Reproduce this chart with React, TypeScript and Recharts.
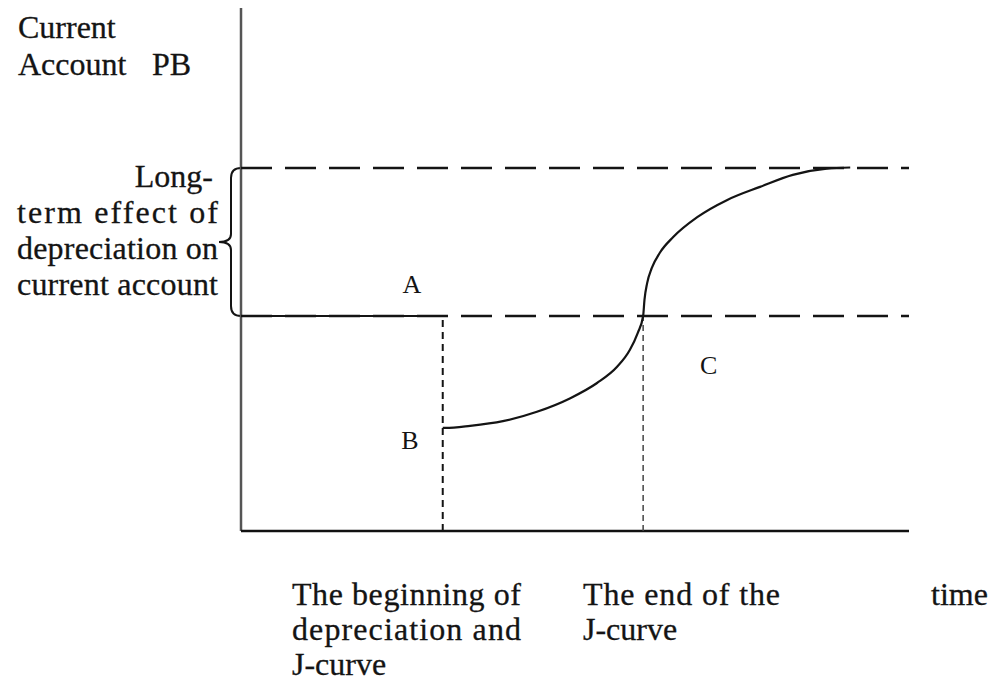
import React from 'react';
import { ComposedChart, Line, XAxis, YAxis, ReferenceLine, ReferenceArea, ReferenceDot } from 'recharts';

// ---- data (time on a 0-100 scale, current account balance on a 0-100 scale) ----
const beforeTime = [0, 30.2];
const beforeValue = [41.1, 41.1];
const jCurveTime = [30.2, 30.6, 34.3, 39.2, 44.3, 49.3, 53.3, 56.3, 58.2, 59.4, 60.2, 60.4, 60.8, 61.5, 62.7, 64.7, 68.3, 72.8, 77.7, 82.6, 87.7, 91.2];
const jCurveValue = [19.7, 19.7, 20.1, 21.0, 22.8, 25.4, 28.3, 31.4, 34.6, 37.9, 41.1, 44.2, 47.4, 50.3, 53.2, 56.2, 60.0, 63.3, 65.8, 68.1, 69.3, 69.5];
const initialLevel = 41.1;
const longRunLevel = 69.4;
const depreciationTime = 30.2;
const endOfJCurveTime = 60.2;
const timeDomain = [0, 100];
const valueDomain = [0, 100];
const pointLabels = ['A', 'B', 'C'];
const pointLabelTime = [25.6, 25.3, 70.0];
const pointLabelValue = [47.2, 17.4, 31.8];

const yTitleLines = ['Current', 'Account', 'PB'];
const braceLabelLines = ['Long-', 'term effect of', 'depreciation on', 'current account'];
const beginLabelLines = ['The beginning of', 'depreciation and', 'J-curve'];
const endLabelLines = ['The end of the', 'J-curve'];
const timeLabel = 'time';

const toPoints = (xs: number[], ys: number[]) => xs.map((t, i) => ({ t, v: ys[i] }));
const beforeData = toPoints(beforeTime, beforeValue);
const jCurveData = toPoints(jCurveTime, jCurveValue);

const FONT = '"Liberation Serif", "Times New Roman", serif';
const INK = '#141414';

const Brace = (props: any) => {
  const { x, y, height } = props;
  const X = x;
  const top = y;
  const bot = y + height;
  const mid = (top + bot) / 2;
  const v = X - 10;
  const p = X - 22;
  const d = `M ${X} ${top} Q ${v} ${top} ${v} ${top + 10} L ${v} ${mid - 8} Q ${v} ${mid} ${p} ${mid} Q ${v} ${mid} ${v} ${mid + 8} L ${v} ${bot - 10} Q ${v} ${bot} ${X} ${bot}`;
  return <path d={d} fill="none" stroke={INK} strokeWidth={2} />;
};

export default function App() {
  const txt = { fontFamily: FONT, fontSize: 32, fill: INK, stroke: INK, strokeWidth: 0.3 } as const;
  return (
    <div style={{ position: 'absolute', left: 0, top: 0, width: 992, height: 684, background: '#fff' }}>
      <ComposedChart
        width={992}
        height={684}
        margin={{ top: 8, right: 83, bottom: 153, left: 241 }}
      >
        <XAxis dataKey="t" type="number" domain={timeDomain} allowDataOverflow hide />
        <YAxis dataKey="v" type="number" domain={valueDomain} allowDataOverflow hide />
        {/* axes */}
        <ReferenceLine
          segment={[{ x: timeDomain[0], y: valueDomain[0] }, { x: timeDomain[0], y: valueDomain[1] }]}
          stroke="#555"
          strokeWidth={2.5}
        />
        <ReferenceLine
          segment={[{ x: timeDomain[0], y: valueDomain[0] }, { x: timeDomain[1], y: valueDomain[0] }]}
          stroke="#111"
          strokeWidth={2.5}
        />
        <ReferenceLine
          segment={[{ x: timeDomain[0], y: longRunLevel }, { x: timeDomain[1], y: longRunLevel }]}
          stroke={INK}
          strokeWidth={2.6}
          strokeDasharray="31 13"
        />
        <ReferenceLine
          segment={[{ x: timeDomain[0], y: initialLevel }, { x: timeDomain[1], y: initialLevel }]}
          stroke={INK}
          strokeWidth={2.6}
          strokeDasharray="31 13"
        />
        <ReferenceLine
          segment={[{ x: depreciationTime, y: 0 }, { x: depreciationTime, y: initialLevel }]}
          stroke={INK}
          strokeWidth={2}
          strokeDasharray="7 5"
        />
        <ReferenceLine
          segment={[{ x: endOfJCurveTime, y: 0 }, { x: endOfJCurveTime, y: initialLevel }]}
          stroke="#444"
          strokeWidth={1.5}
          strokeDasharray="6 4"
        />
        <ReferenceArea x1={0} x2={1} y1={initialLevel} y2={longRunLevel} shape={Brace} />
        <Line data={beforeData} dataKey="v" type="linear" stroke={INK} strokeWidth={2} dot={false} isAnimationActive={false} />
        <Line data={jCurveData} dataKey="v" type="monotone" stroke={INK} strokeWidth={2.2} dot={false} isAnimationActive={false} />
        {pointLabels.map((l, i) => (
          <ReferenceDot
            key={l}
            x={pointLabelTime[i]}
            y={pointLabelValue[i]}
            r={0}
            fill="none"
            stroke="none"
            label={{ value: l, position: 'center', fontFamily: FONT, fontSize: 26, fill: INK }}
          />
        ))}
        <text {...txt} x={18} y={38}>{yTitleLines[0]}</text>
        <text {...txt} x={18} y={75}>{yTitleLines[1]}</text>
        <text {...txt} x={152} y={75}>{yTitleLines[2]}</text>

        <text {...txt} x={213} y={187} textAnchor="end">{braceLabelLines[0]}</text>
        <text {...txt} x={17} y={223} textLength={201} lengthAdjust="spacing">{braceLabelLines[1]}</text>
        <text {...txt} x={17} y={259} textLength={201} lengthAdjust="spacing">{braceLabelLines[2]}</text>
        <text {...txt} x={17} y={295} textLength={201} lengthAdjust="spacing">{braceLabelLines[3]}</text>

        <text {...txt} x={292} y={605} textLength={229} lengthAdjust="spacing">{beginLabelLines[0]}</text>
        <text {...txt} x={292} y={640} textLength={229} lengthAdjust="spacing">{beginLabelLines[1]}</text>
        <text {...txt} x={292} y={675}>{beginLabelLines[2]}</text>

        <text {...txt} x={583} y={605} textLength={197} lengthAdjust="spacing">{endLabelLines[0]}</text>
        <text {...txt} x={583} y={640}>{endLabelLines[1]}</text>

        <text {...txt} x={931} y={605}>{timeLabel}</text>
      </ComposedChart>
    </div>
  );
}
